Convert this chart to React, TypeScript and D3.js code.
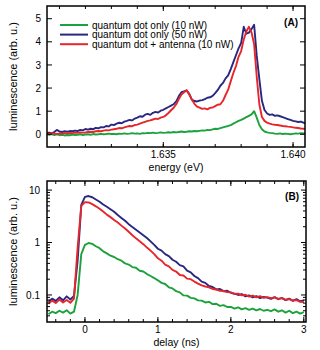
import * as d3 from 'd3';

// panel A: PL spectra, energy grid 1.6305..1.6405 eV in 0.1 meV steps
const energy = d3.range(101).map(i => 1.6305 + i * 0.0001);

const specBlue = [
  0.05, 0.07, 0.04, 0.10, 0.19, 0.12, 0.10, 0.13, 0.11, 0.14,
  0.13, 0.16, 0.14, 0.19, 0.17, 0.23, 0.20, 0.24, 0.22, 0.28,
  0.26, 0.31, 0.30, 0.36, 0.34, 0.42, 0.40, 0.46, 0.50, 0.48,
  0.55, 0.58, 0.62, 0.60, 0.68, 0.72, 0.78, 0.76, 0.85, 0.88,
  0.84, 0.93, 0.97, 0.94, 1.02, 1.06, 1.12, 1.18, 1.24, 1.30,
  1.42, 1.65, 1.82, 1.86, 1.90, 1.75, 1.50, 1.44, 1.42, 1.46,
  1.48, 1.52, 1.58, 1.60, 1.66, 1.78, 1.92, 2.10, 2.22, 2.42,
  2.55, 2.82, 3.12, 3.42, 3.72, 3.95, 4.65, 4.35, 4.40, 4.55,
  4.74, 3.40, 2.40, 1.45, 1.05, 0.90, 0.84, 0.86, 0.80, 0.82,
  0.78, 0.74, 0.70, 0.66, 0.62, 0.58, 0.56, 0.53, 0.55, 0.50, 0.48,
];

const specRed = [
  0.00, 0.02, 0.05, 0.03, 0.01, 0.04, 0.03, 0.05, 0.04, 0.06,
  0.05, 0.07, 0.06, 0.08, 0.07, 0.08, 0.10, 0.11, 0.10, 0.13,
  0.14, 0.13, 0.16, 0.18, 0.17, 0.20, 0.22, 0.24, 0.27, 0.26,
  0.30, 0.33, 0.36, 0.35, 0.40, 0.42, 0.46, 0.50, 0.54, 0.58,
  0.60, 0.64, 0.68, 0.66, 0.72, 0.75, 0.82, 0.92, 1.04, 1.15,
  1.30, 1.52, 1.72, 1.82, 1.90, 1.72, 1.50, 1.32, 1.20, 1.15,
  1.10, 1.12, 1.08, 1.14, 1.16, 1.22, 1.28, 1.30, 1.45, 1.70,
  1.93, 2.30, 2.65, 2.95, 3.35, 3.60, 4.10, 4.45, 4.65, 4.40,
  3.90, 2.50, 1.30, 0.75, 0.58, 0.50, 0.46, 0.43, 0.41, 0.40,
  0.38, 0.36, 0.35, 0.33, 0.32, 0.30, 0.28, 0.27, 0.25, 0.24, 0.23,
];

const specGreen = [
  0.00, -0.02, 0.01, -0.03, 0.00, -0.04, -0.02, -0.05, -0.03, -0.04,
  -0.01, -0.03, -0.02, 0.00, -0.03, -0.01, 0.00, -0.02, 0.01, -0.01,
  0.00, 0.02, 0.00, 0.01, 0.03, 0.01, 0.02, 0.00, 0.03, 0.02,
  0.04, 0.02, 0.03, 0.05, 0.03, 0.04, 0.02, 0.05, 0.04, 0.06,
  0.05, 0.07, 0.05, 0.06, 0.08, 0.06, 0.07, 0.09, 0.07, 0.10,
  0.08, 0.10, 0.12, 0.10, 0.11, 0.13, 0.12, 0.14, 0.13, 0.15,
  0.17, 0.16, 0.19, 0.18, 0.21, 0.24, 0.23, 0.27, 0.30, 0.33,
  0.36, 0.40, 0.46, 0.52, 0.58, 0.62, 0.68, 0.74, 0.80, 0.86,
  1.00, 0.72, 0.40, 0.22, 0.12, 0.08, 0.06, 0.05, 0.03, 0.02,
  0.04, 0.01, 0.03, 0.02, 0.00, 0.02, 0.04, 0.03, 0.05, 0.04, 0.05,
];

// panel B: decay traces, delay grid -0.5..3.0 ns in 50 ps steps
const delay = d3.range(71).map(i => -0.5 + i * 0.05);

const decayBlue = [
  0.074, 0.085, 0.077, 0.090, 0.079, 0.094, 0.082, 0.096, 0.45, 5.2,
  7.4, 7.7, 7.3, 6.6, 6.0, 5.3, 4.8, 4.3, 3.85, 3.35,
  2.95, 2.6, 2.24, 1.98, 1.76, 1.56, 1.38, 1.22, 1.05, 0.9,
  0.76, 0.7, 0.6, 0.55, 0.47, 0.43, 0.37, 0.35, 0.29, 0.27,
  0.23, 0.21, 0.18, 0.17, 0.148, 0.142, 0.128, 0.13, 0.118, 0.12,
  0.11, 0.106, 0.1, 0.104, 0.094, 0.098, 0.09, 0.095, 0.087, 0.092,
  0.089, 0.084, 0.091, 0.083, 0.087, 0.08, 0.085, 0.077, 0.083, 0.076, 0.079,
];

const decayRed = [
  0.068, 0.078, 0.07, 0.082, 0.072, 0.08, 0.071, 0.085, 0.8, 5.0,
  5.9, 5.8, 5.4, 4.9, 4.4, 3.9, 3.4, 3.05, 2.7, 2.4,
  2.1, 1.85, 1.6, 1.38, 1.2, 1.06, 0.93, 0.8, 0.7, 0.6,
  0.5, 0.45, 0.38, 0.35, 0.3, 0.28, 0.24, 0.235, 0.205, 0.2,
  0.18, 0.165, 0.152, 0.145, 0.14, 0.13, 0.127, 0.12, 0.119, 0.113,
  0.112, 0.104, 0.106, 0.098, 0.101, 0.093, 0.097, 0.09, 0.095, 0.088,
  0.091, 0.087, 0.09, 0.084, 0.088, 0.081, 0.083, 0.078, 0.08, 0.074, 0.073,
];

const decayGreen = [
  0.043, 0.048, 0.045, 0.05, 0.046, 0.051, 0.044, 0.048, 0.1, 0.6,
  0.9, 0.98, 0.94, 0.85, 0.78, 0.68, 0.62, 0.56, 0.53, 0.48,
  0.45, 0.4, 0.38, 0.34, 0.33, 0.29, 0.28, 0.25, 0.23, 0.21,
  0.19, 0.17, 0.162, 0.14, 0.133, 0.118, 0.112, 0.098, 0.097, 0.088,
  0.086, 0.079, 0.078, 0.072, 0.074, 0.067, 0.068, 0.062, 0.064, 0.059,
  0.059, 0.055, 0.058, 0.053, 0.056, 0.052, 0.055, 0.051, 0.054, 0.05,
  0.052, 0.049, 0.053, 0.048, 0.051, 0.046, 0.05, 0.045, 0.048, 0.044, 0.047,
];

const legendLabels = [
  'quantum dot only (10 nW)',
  'quantum dot only (50 nW)',
  'quantum dot + antenna (10 nW)',
];
const GREEN = '#1ba23c';
const BLUE = '#29287f';
const RED = '#e6262b';
const legendColors = [GREEN, BLUE, RED];

const energyTicks = [1.635, 1.64];
const energyMinor = d3.range(1.631, 1.6405, 0.001);
const lumTicks = [0, 1, 2, 3, 4, 5];
const delayTicks = [0, 1, 2, 3];
const delayMinor = d3.range(-0.4, 3.01, 0.2);
const logTicks = [0.1, 1, 10];

const FONT = 'Liberation Sans, Arial, Helvetica, sans-serif';

const A = { l: 47, r: 305, t: 6, b: 147 };
const B = { l: 47, r: 306, t: 181, b: 322 };

export default function App() {
  const xA = d3.scaleLinear().domain([1.63052, 1.64046]).range([A.l, A.r]);
  const yA = d3.scaleLinear().domain([-0.55, 5.55]).range([A.b, A.t]);
  const xB = d3.scaleLinear().domain([-0.52, 3.03]).range([B.l, B.r]);
  const yB = d3.scaleLog().domain([0.0305, 14.9]).range([B.b, B.t]);

  const lineA = (vals: number[]) =>
    d3.line<number>().x((_, i) => xA(energy[i])).y(d => yA(d))(vals) || '';
  const lineB = (vals: number[]) =>
    d3.line<number>().x((_, i) => xB(delay[i])).y(d => yB(d))(vals) || '';

  const logMinor: number[] = [];
  [0.01, 0.1, 1, 10].forEach(dec => {
    for (let m = 2; m <= 9; m++) {
      const v = dec * m;
      if (v > 0.0305 && v < 14.9) logMinor.push(v);
    }
  });

  const tick = (x1: number, y1: number, x2: number, y2: number, k: string) => (
    <line key={k} x1={x1} y1={y1} x2={x2} y2={y2} stroke="#000" strokeWidth={1} />
  );

  return (
    <svg width={320} height={350} style={{ position: 'absolute', left: 0, top: 0, background: '#fff' }}
      fontFamily={FONT}>
      <defs>
        <clipPath id="clipA"><rect x={A.l} y={A.t} width={A.r - A.l} height={A.b - A.t} /></clipPath>
        <clipPath id="clipB"><rect x={B.l} y={B.t} width={B.r - B.l} height={B.b - B.t} /></clipPath>
      </defs>

      {/* panel A */}
      <g clipPath="url(#clipA)" fill="none" strokeWidth={1.9} strokeLinejoin="round">
        <path d={lineA(specGreen)} stroke={GREEN} />
        <path d={lineA(specBlue)} stroke={BLUE} />
        <path d={lineA(specRed)} stroke={RED} />
      </g>
      {energyMinor.map((e, i) => (
        <g key={'em' + i}>
          {tick(xA(e), A.b, xA(e), A.b - 3, 'b')}
          {tick(xA(e), A.t, xA(e), A.t + 3, 't')}
        </g>
      ))}
      {energyTicks.map((e, i) => (
        <g key={'et' + i}>
          {tick(xA(e), A.b, xA(e), A.b - 5, 'b')}
          {tick(xA(e), A.t, xA(e), A.t + 5, 't')}
          <text x={xA(e)} y={157.5} fontSize={10} textAnchor="middle">{e.toFixed(3)}</text>
        </g>
      ))}
      {lumTicks.map((v, i) => (
        <g key={'lt' + i}>
          {tick(A.l, yA(v), A.l + 5, yA(v), 'l')}
          {tick(A.r, yA(v), A.r - 5, yA(v), 'r')}
          <text x={41} y={yA(v) + 3.6} fontSize={10} textAnchor="end">{v}</text>
        </g>
      ))}
      <rect x={A.l} y={A.t} width={A.r - A.l} height={A.b - A.t} fill="none" stroke="#000" strokeWidth={1.5} />
      <text x={(A.l + A.r) / 2} y={170.5} fontSize={10.5} textAnchor="middle">energy (eV)</text>
      <text transform={`translate(17,${(A.t + A.b) / 2}) rotate(-90)`} fontSize={11} textAnchor="middle">
        luminescence (arb. u.)
      </text>
      <text x={298} y={26} fontSize={10} fontWeight="bold" textAnchor="end">(A)</text>
      {legendLabels.map((lab, i) => (
        <g key={'lg' + i}>
          <line x1={60} x2={88} y1={25 + i * 9.6} y2={25 + i * 9.6} stroke={legendColors[i]} strokeWidth={2} />
          <text x={92} y={25 + i * 9.6 + 3.5} fontSize={10}>{lab}</text>
        </g>
      ))}

      {/* panel B */}
      <g clipPath="url(#clipB)" fill="none" strokeWidth={1.9} strokeLinejoin="round">
        <path d={lineB(decayGreen)} stroke={GREEN} />
        <path d={lineB(decayBlue)} stroke={BLUE} />
        <path d={lineB(decayRed)} stroke={RED} />
      </g>
      {delayMinor.map((t, i) => (
        <g key={'dm' + i}>
          {tick(xB(t), B.b, xB(t), B.b - 3, 'b')}
          {tick(xB(t), B.t, xB(t), B.t + 3, 't')}
        </g>
      ))}
      {delayTicks.map((t, i) => (
        <g key={'dt' + i}>
          {tick(xB(t), B.b, xB(t), B.b - 5, 'b')}
          {tick(xB(t), B.t, xB(t), B.t + 5, 't')}
          <text x={xB(t)} y={333} fontSize={10} textAnchor="middle">{t}</text>
        </g>
      ))}
      {logMinor.map((v, i) => (
        <g key={'lm' + i}>
          {tick(B.l, yB(v), B.l + 3, yB(v), 'l')}
          {tick(B.r, yB(v), B.r - 3, yB(v), 'r')}
        </g>
      ))}
      {logTicks.map((v, i) => (
        <g key={'lgt' + i}>
          {tick(B.l, yB(v), B.l + 5, yB(v), 'l')}
          {tick(B.r, yB(v), B.r - 5, yB(v), 'r')}
          <text x={40} y={yB(v) + 3.6} fontSize={10} textAnchor="end">{v}</text>
        </g>
      ))}
      <rect x={B.l} y={B.t} width={B.r - B.l} height={B.b - B.t} fill="none" stroke="#000" strokeWidth={1.5} />
      <text x={(B.l + B.r) / 2} y={345.5} fontSize={10.5} textAnchor="middle">delay (ns)</text>
      <text transform={`translate(17,${(B.t + B.b) / 2}) rotate(-90)`} fontSize={11} textAnchor="middle">
        luminescence (arb. u.)
      </text>
      <text x={299} y={200} fontSize={10} fontWeight="bold" textAnchor="end">(B)</text>
    </svg>
  );
}
